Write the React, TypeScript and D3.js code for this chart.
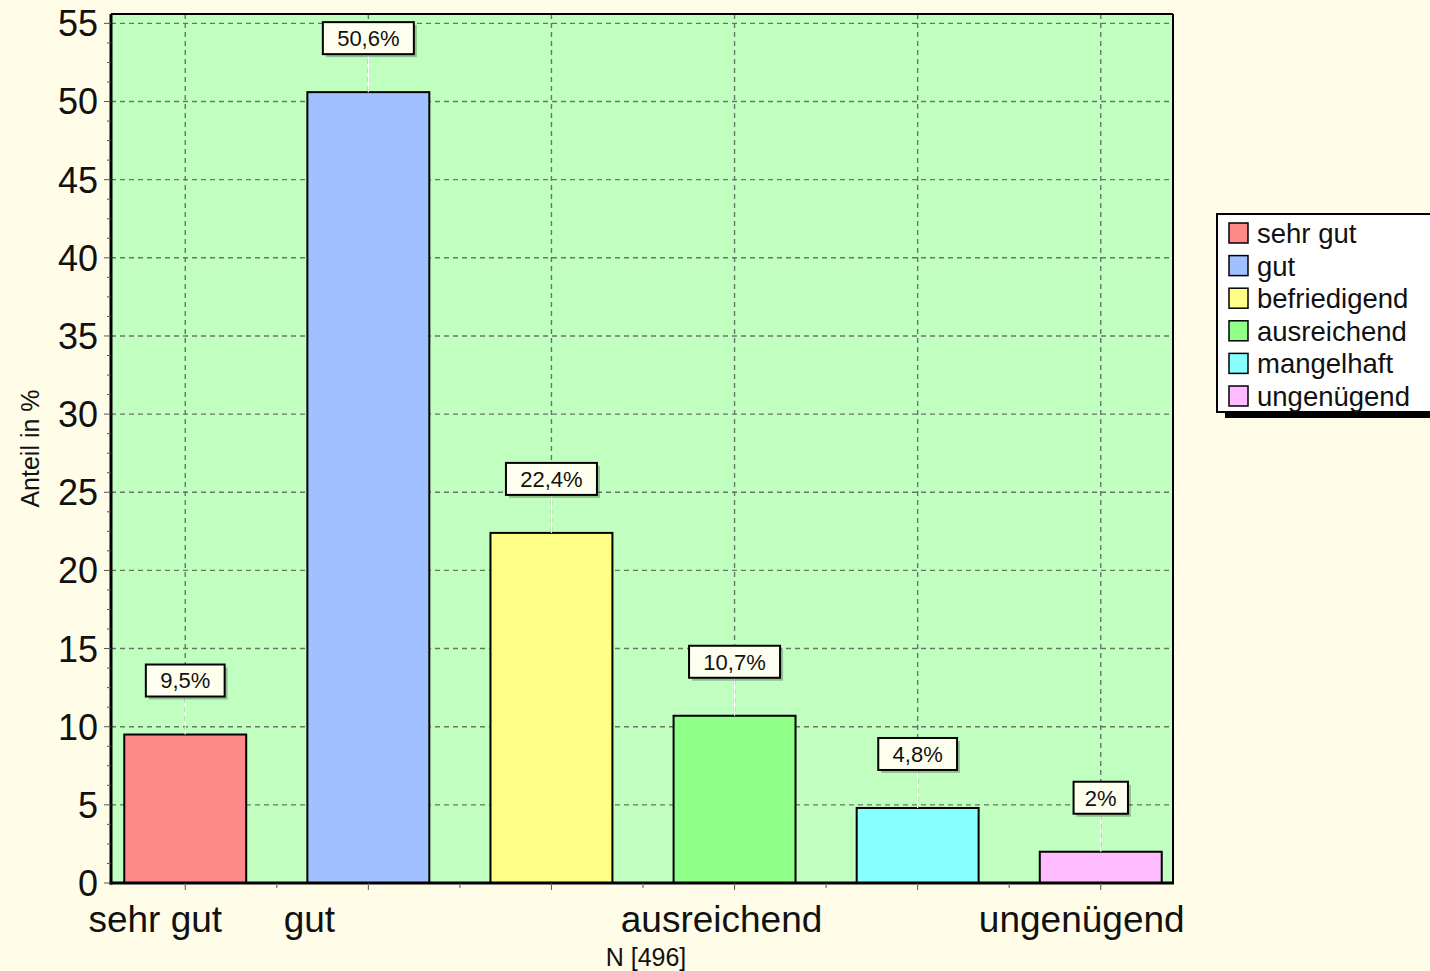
import * as d3 from 'd3'

const categories = ['sehr gut', 'gut', 'befriedigend', 'ausreichend', 'mangelhaft', 'ungenügend']
const values = [9.5, 50.6, 22.4, 10.7, 4.8, 2]
const valueLabels = ['9,5%', '50,6%', '22,4%', '10,7%', '4,8%', '2%']
const barColors = ['#ff8888', '#a0c0ff', '#ffff88', '#90ff88', '#88ffff', '#ffbbff']
const yTicks = [0, 5, 10, 15, 20, 25, 30, 35, 40, 45, 50, 55]
// only some category names are printed under the axis (the rest were dropped for overlap)
const shownLabels = ['sehr gut', 'gut', 'ausreichend', 'ungenügend']
const labelNudge = [-30, -59, -13, -19]

const W = 1430
const H = 971
const margin = { top: 14, right: 257, bottom: 88, left: 111 }
const font = '"Liberation Sans", Arial, sans-serif'

const App = () => {
  const x0 = margin.left
  const x1 = W - margin.right
  const y0 = H - margin.bottom
  const y1 = margin.top

  const xScale = d3.scalePoint<string>().domain(categories).range([x0 + 1, x1 + 1]).padding(0.4)
  const yScale = d3.scaleLinear().domain([0, 55.6]).range([y0, y1])
  const barW = xScale.step() * 0.666

  const minorTicks = d3.range(0, 55.01, 1.25)
  const legendRow = d3.scalePoint<string>().domain(categories).range([233, 396])

  return (
    <svg width={W} height={H} style={{ position: 'absolute', left: 0, top: 0, display: 'block' }} fontFamily={font}>
      <rect x={0} y={0} width={W} height={H} fill="#fffde8" />
      <rect x={x0} y={y1} width={x1 - x0} height={y0 - y1} fill="#c0ffc0" />

      {/* grid */}
      {yTicks.filter(t => t > 0).map(t => (
        <line key={'h' + t} x1={x0} x2={x1} y1={yScale(t)} y2={yScale(t)}
          stroke="#667766" strokeWidth={1.4} strokeDasharray="5,4" />
      ))}
      {categories.map(c => (
        <line key={'v' + c} x1={xScale(c)} x2={xScale(c)} y1={y1} y2={y0}
          stroke="#667766" strokeWidth={1.4} strokeDasharray="5,4" />
      ))}

      {/* bars */}
      {categories.map((c, i) => (
        <rect key={'b' + c} x={xScale(c)! - barW / 2} y={yScale(values[i])}
          width={barW} height={y0 - yScale(values[i])}
          fill={barColors[i]} stroke="#000" strokeWidth={2} />
      ))}

      {/* value boxes */}
      {categories.map((c, i) => {
        const cx = xScale(c)!
        const top = yScale(values[i])
        const tw = valueLabels[i].length * 12.2 + 2
        const bw = tw + 28
        const bh = 32
        const by = top - 38 - bh
        return (
          <g key={'l' + c}>
            <line x1={cx} x2={cx} y1={by + bh} y2={top} stroke="#fff" strokeWidth={1.2} />
            <rect x={cx - bw / 2 + 3} y={by + 3} width={bw} height={bh} fill="#000" opacity={0.25} />
            <rect x={cx - bw / 2} y={by} width={bw} height={bh} fill="#fffff0" stroke="#000" strokeWidth={2} />
            <text x={cx} y={by + bh / 2} dy="0.36em" textAnchor="middle" fontSize={22} fill="#111">{valueLabels[i]}</text>
          </g>
        )
      })}

      {/* axes */}
      <line x1={x0} x2={x1} y1={y1} y2={y1} stroke="#000" strokeWidth={2} />
      <line x1={x1} x2={x1} y1={y1} y2={y0} stroke="#000" strokeWidth={2} />
      <line x1={x0} x2={x0} y1={y1} y2={y0 + 1.5} stroke="#000" strokeWidth={3} />
      <line x1={x0 - 1.5} x2={x1 + 1} y1={y0} y2={y0} stroke="#000" strokeWidth={3} />

      {minorTicks.map(t => (
        <line key={'m' + t} x1={x0 - (t % 5 === 0 ? 7 : 4)} x2={x0} y1={yScale(t)} y2={yScale(t)}
          stroke="#555" strokeWidth={1} />
      ))}
      {yTicks.map(t => (
        <text key={'yt' + t} x={98} y={yScale(t)} dy="0.36em" textAnchor="end" fontSize={36} fill="#111">{t}</text>
      ))}

      {categories.map(c => (
        <line key={'xt' + c} x1={xScale(c)} x2={xScale(c)} y1={y0} y2={y0 + 7} stroke="#555" strokeWidth={1} />
      ))}
      {categories.slice(1).map((c, i) => {
        const mx = (xScale(c)! + xScale(categories[i])!) / 2
        return <line key={'xm' + c} x1={mx} x2={mx} y1={y0} y2={y0 + 5} stroke="#555" strokeWidth={1} />
      })}
      {shownLabels.map((c, i) => (
        <text key={'xl' + c} x={xScale(c)! + labelNudge[i]} y={932} textAnchor="middle" fontSize={37} fill="#111">{c}</text>
      ))}

      <text transform={`translate(30, ${(y0 + y1) / 2 + 0}) rotate(-90)`} dy="0.36em" textAnchor="middle" fontSize={25} fill="#111">Anteil in %</text>
      <text x={646} y={966} textAnchor="middle" fontSize={25} fill="#111">N [496]</text>

      {/* legend */}
      <rect x={1225} y={411} width={220} height={7} fill="#000" />
      <rect x={1217} y={214} width={230} height={198} fill="#fff" stroke="#000" strokeWidth={2} />
      {categories.map((c, i) => (
        <g key={'lg' + c}>
          <rect x={1229} y={legendRow(c)! - 10} width={19} height={20} fill={barColors[i]} stroke="#000" strokeWidth={1.5} />
          <text x={1257} y={legendRow(c)} dy="0.36em" fontSize={27.5} fill="#111">{c}</text>
        </g>
      ))}
    </svg>
  )
}

export default App
